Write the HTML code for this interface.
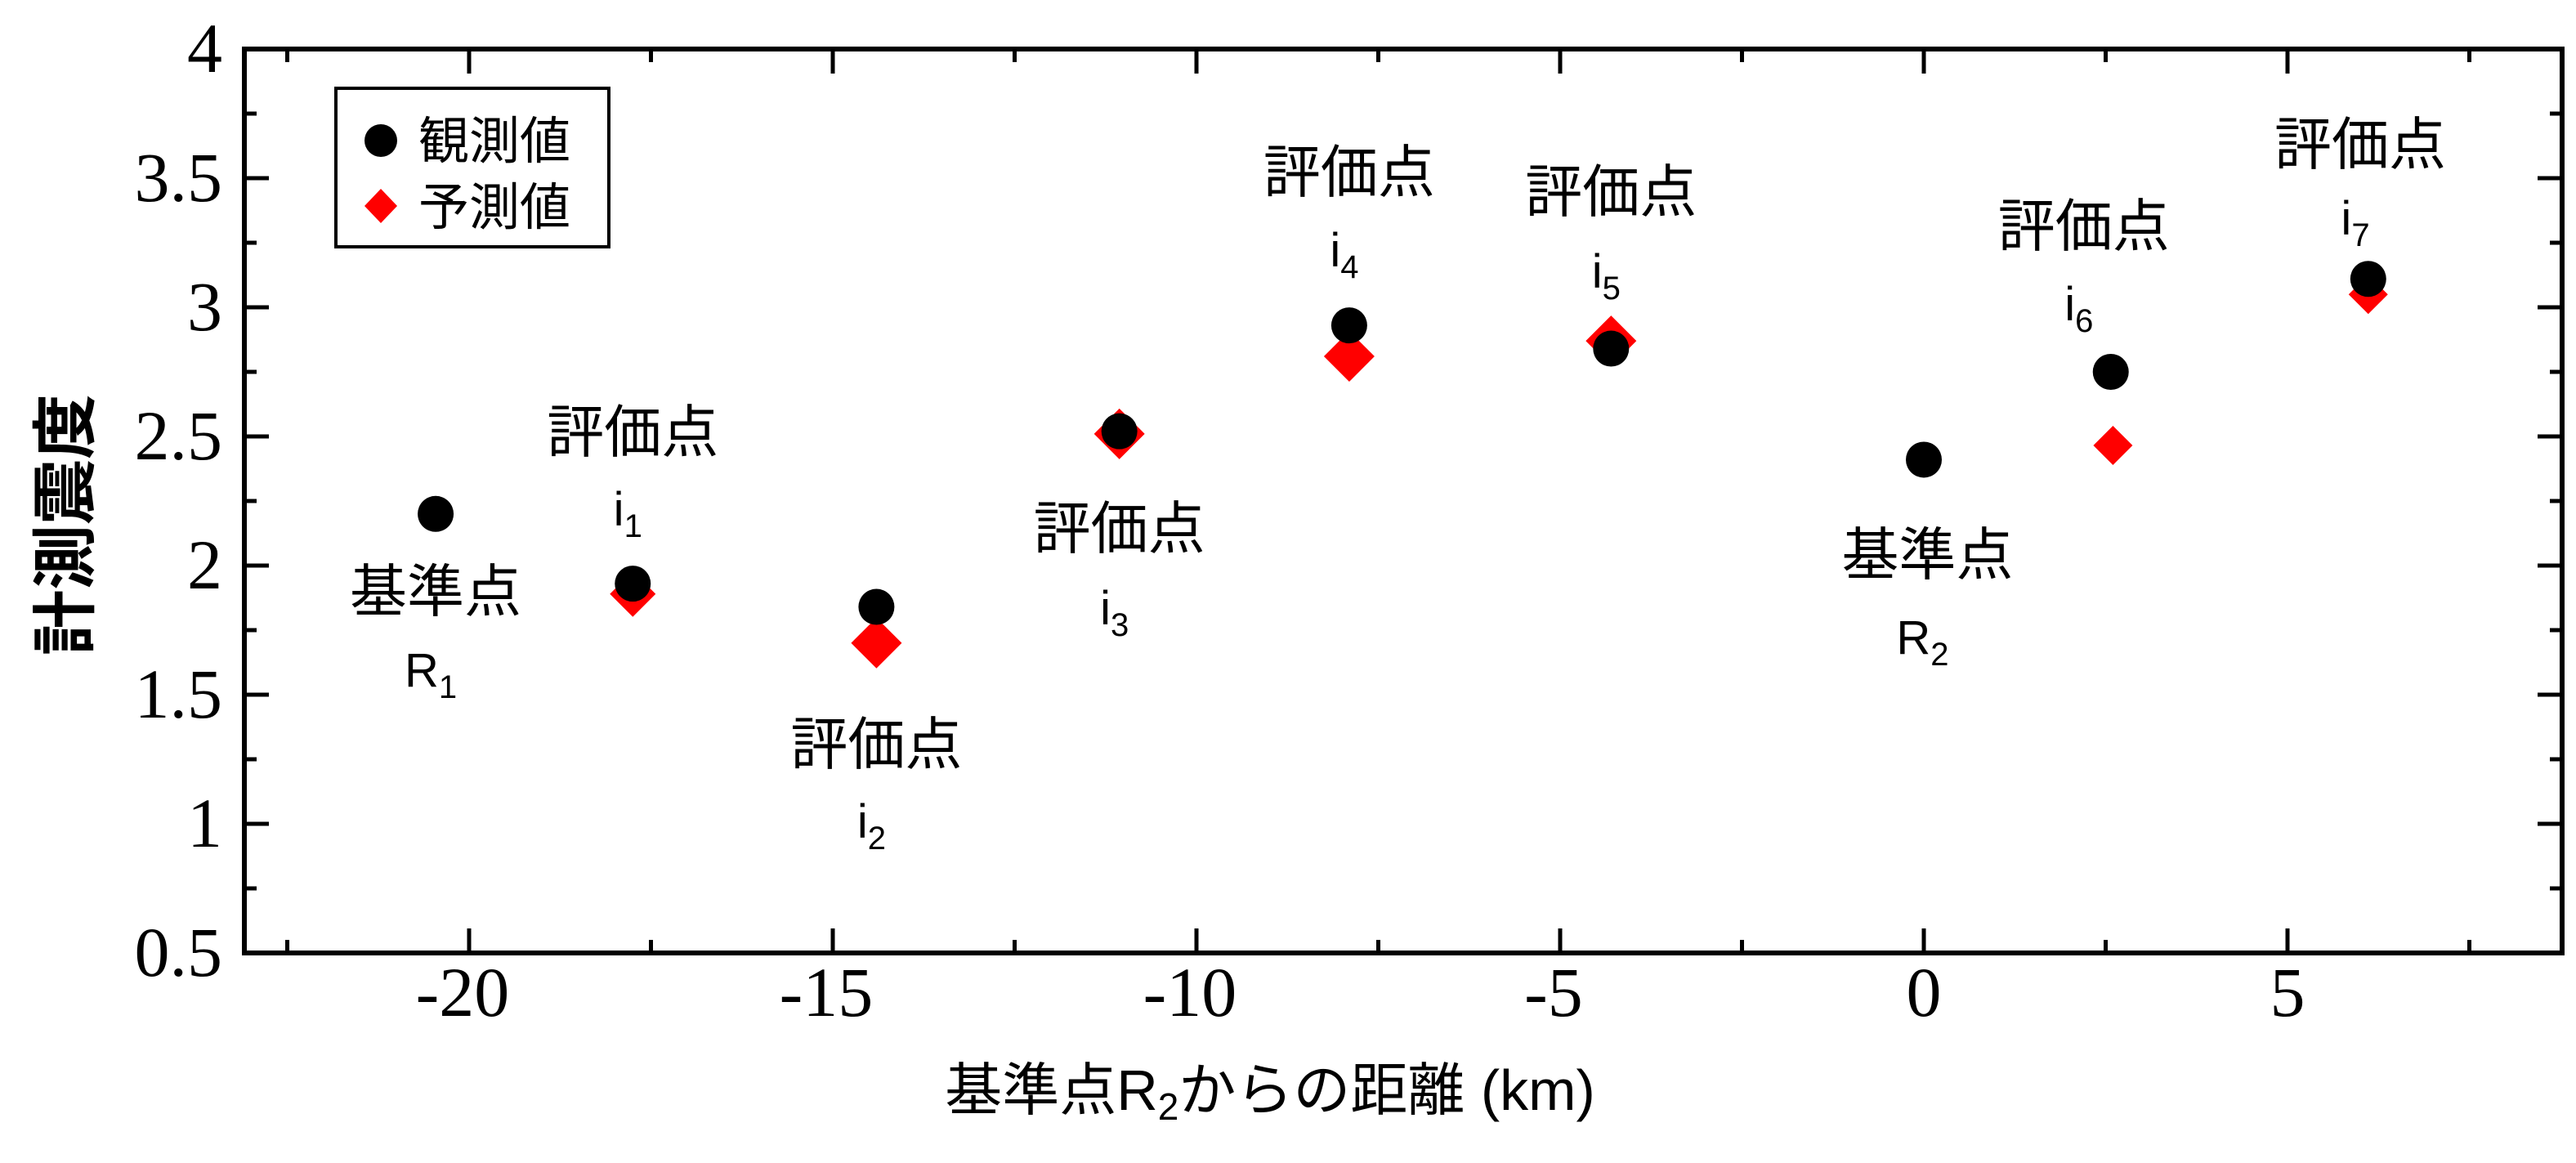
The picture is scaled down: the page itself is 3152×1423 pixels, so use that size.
<!DOCTYPE html>
<html><head><meta charset="utf-8"><style>
html,body{margin:0;padding:0;background:#fff;}
svg{display:block;}
.tick{font-family:"Liberation Serif",serif;font-size:86px;fill:#000;}
.jp{font-family:"Liberation Sans","Noto Sans CJK JP",sans-serif;fill:#000;}
</style></head><body>
<svg id="chart" width="3152" height="1423" viewBox="0 0 3152 1423" xmlns="http://www.w3.org/2000/svg">
<g id="plot"></g>
<text class="jp" transform="translate(108,642) rotate(-90)" text-anchor="middle" font-size="80" font-weight="bold">計測震度</text>
<text class="jp" x="1554" y="1358" text-anchor="middle" font-size="70">基準点R<tspan font-size="46" dy="12">2</tspan><tspan dy="-12">からの距離 (km)</tspan></text>
<g>
<rect x="411" y="108" width="334" height="194" fill="#fff" stroke="#000" stroke-width="4"/>
<circle cx="466" cy="172" r="20" fill="#000"/>
<text class="jp" x="512" y="194" font-size="62">観測値</text>
<polygon points="466,231 486,252 466,273 446,252" fill="#f00"/>
<text class="jp" x="512" y="275" font-size="62">予測値</text>
</g>
</svg>
<script>
const stations=["R1","i1","i2","i3","i4","i5","R2","i6","i7"];
const obsX=[-20.46,-17.75,-14.4,-11.06,-7.9,-4.3,0,2.57,6.11];
const obsY=[2.2,1.93,1.84,2.52,2.93,2.84,2.41,2.75,3.11];
const predStations=["i1","i2","i3","i4","i5","i6","i7"];
const predX=[-17.75,-14.4,-11.06,-7.9,-4.3,2.6,6.11];
const predY=[1.89,1.70,2.51,2.81,2.87,2.465,3.05];
const xTicks=[-20,-15,-10,-5,0,5];
const yTicks=[0.5,1,1.5,2,2.5,3,3.5,4];
const yTickLabels=["0.5","1","1.5","2","2.5","3","3.5","4"];
const annotations=[["基準点","R","1",-20.46,724,820],["評価点","i","1",-17.75,529,623],["評価点","i","2",-14.4,911,1005],["評価点","i","3",-11.06,647,744],["評価点","i","4",-7.9,211,306],["評価点","i","5",-4.3,235,332],["基準点","R","2",0.05,679,780],["評価点","i","6",2.2,277,372],["評価点","i","7",6.0,177,267]];
const predSize=[28,31,31,31,31,24,24];

const L=299,R=3135,T=60,B=1166;
const X=v=>2354+v*89;
const Y=v=>T+(4-v)*(B-T)/3.5;
const NS="http://www.w3.org/2000/svg";
const svg=document.getElementById('plot');
function mk(t,a){const e=document.createElementNS(NS,t);for(const k in a)e.setAttribute(k,a[k]);svg.appendChild(e);return e;}
// axes frame
let fr=mk('rect',{x:L,y:T,width:R-L,height:B-T,fill:'none',stroke:'#000','stroke-width':6});


// x ticks
for(let v=-22.5;v<=7.5;v+=2.5){const major=Number.isInteger(v/5);const len=major?30:16;const x=X(v);
 let t1=mk('line',{x1:x,y1:B,x2:x,y2:B-len,stroke:'#000','stroke-width':5});
 
 
 let t2=mk('line',{x1:x,y1:T,x2:x,y2:T+len,stroke:'#000','stroke-width':5});
 
 }
xTicks.forEach(v=>{let t=mk('text',{x:X(v)+(v<0?-8:0),y:1243,'text-anchor':'middle',class:'tick'});t.textContent=String(v);
 
 });
// y ticks
for(let v=0.75;v<4;v+=0.25){const major=Math.abs(v*2-Math.round(v*2))<1e-6;const len=major?30:15;const y=Y(v);
 let t1=mk('line',{x1:L,y1:y,x2:L+len,y2:y,stroke:'#000','stroke-width':5});
 
 
 let t2=mk('line',{x1:R,y1:y,x2:R-len,y2:y,stroke:'#000','stroke-width':5});
 
 }
yTicks.forEach((v,i)=>{let t=mk('text',{x:272,y:Y(v)+28,'text-anchor':'end',class:'tick'});t.textContent=yTickLabels[i];
 
 });
// annotations
annotations.forEach(a=>{const cx=X(a[3]);
 let t=mk('text',{x:cx,y:a[4]+24,'text-anchor':'middle',class:'jp','font-size':70});t.textContent=a[0];
 
 
 let s=mk('text',{x:cx-6,y:a[5]+20,'text-anchor':'middle',class:'jp','font-size':58});
 
 
 s.appendChild(document.createTextNode(a[1]));
 const sub=document.createElementNS(NS,'tspan');sub.setAttribute('font-size','40');sub.setAttribute('dy','14');sub.textContent=a[2];s.appendChild(sub);});
// predicted diamonds
predX.forEach((v,i)=>{const cx=X(v),cy=Y(predY[i]),s=predSize[i];
 let p=mk('polygon',{points:`${cx},${cy-s} ${cx+s},${cy} ${cx},${cy+s} ${cx-s},${cy}`,fill:'#f00'});
 
 });
// observed circles
obsX.forEach((v,i)=>{let c=mk('circle',{cx:X(v),cy:Y(obsY[i]),r:22,fill:'#000'});
 
 });
</script>
</body></html>
